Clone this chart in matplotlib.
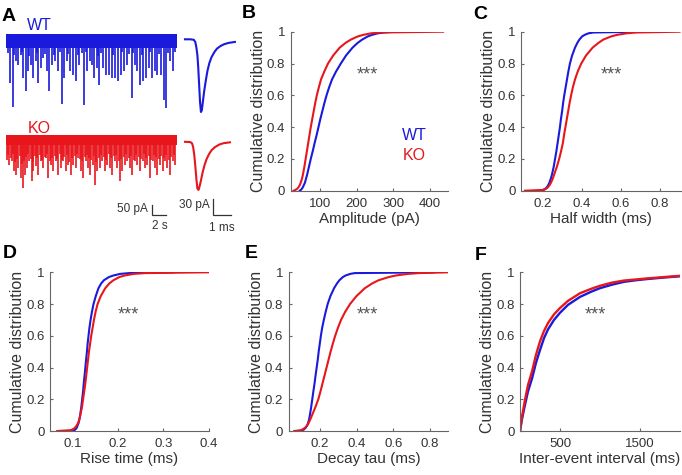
import matplotlib
matplotlib.use("Agg")
import matplotlib.pyplot as plt

plt.rcParams['font.family'] = ['Liberation Sans', 'DejaVu Sans']

W, H = 682, 475
BLUE = '#1a1adc'
RED = '#e8161c'
TXT = '#333333'
SPINE = '#666666'

# ---------------- data ----------------
# Panel A: raw traces (event time in s, event amplitude in pA)
wt_event_t = [0.57, 0.95, 1.43, 1.76, 2.10, 2.48, 2.86, 3.19, 3.52, 3.90, 4.29, 4.62, 4.95, 5.33,
              5.81, 6.19, 6.52, 7.00, 7.48, 7.95, 8.29, 8.67, 9.14, 9.52, 10.00, 10.48, 11.14,
              11.62, 12.00, 12.24, 12.57, 12.95, 13.33, 13.90, 14.29, 14.67, 15.10, 15.57, 16.05,
              16.38, 16.86, 17.33, 17.95, 18.43, 18.76, 19.14, 19.62, 20.00, 20.38, 20.81, 21.29,
              21.62, 22.10, 22.57, 22.86, 23.43, 23.90,
              0.30, 1.15, 2.30, 3.35, 4.45, 5.55, 6.80, 7.70, 8.90, 10.25, 10.80, 11.40, 13.10,
              13.60, 15.35, 16.60, 17.60, 18.20, 19.40, 20.60, 21.85, 23.10, 24.10]
wt_event_amp = [210, 332, 102, 118, 68, 185, 252, 152, 118, 185, 102, 210, 135, 85,
                152, 252, 118, 102, 152, 315, 185, 102, 152, 168, 202, 118, 322,
                152, 102, 118, 185, 135, 218, 135, 168, 168, 185, 185, 202,
                168, 152, 118, 285, 118, 152, 218, 202, 185, 135, 185, 152,
                168, 168, 293, 335, 102, 152,
                60, 70, 55, 75, 60, 65, 70, 55, 65, 70, 60, 55, 75,
                60, 70, 55, 65, 60, 70, 55, 65, 60, 55]
ko_event_t = [0.19, 0.48, 0.81, 1.14, 1.43, 1.76, 2.10, 2.48, 2.71, 3.05, 3.33, 3.67, 3.90, 4.29,
              4.62, 4.95, 5.33, 5.67, 6.05, 6.38, 6.76, 7.10, 7.48, 7.81, 8.19, 8.52, 8.90, 9.24,
              9.62, 9.95, 10.33, 10.67, 11.05, 11.38, 11.67, 12.00, 12.38, 12.71, 13.05, 13.43,
              13.76, 14.14, 14.48, 14.86, 15.19, 15.57, 15.90, 16.29, 16.62, 17.00, 17.33, 17.71,
              18.05, 18.43, 18.76, 19.14, 19.52, 19.86, 20.19, 20.57, 20.95, 21.29, 21.62, 22.00,
              22.38, 22.71, 23.05, 23.43, 23.81, 24.14,
              0.33, 0.65, 0.98, 1.30, 1.60, 1.93, 2.28, 2.60, 2.88, 3.20, 3.50, 3.80, 4.10, 4.45,
              4.80, 5.15, 5.50, 5.85, 6.22, 6.57, 6.93, 7.30, 7.65, 8.00, 8.35, 8.70, 9.07, 9.43,
              9.80, 10.15, 10.50, 10.86, 11.22, 11.52, 11.84, 12.20, 12.55, 12.88, 13.25, 13.60,
              13.95, 14.31, 14.67, 15.02, 15.38, 15.74, 16.10, 16.45, 16.81, 17.17, 17.52, 17.88,
              18.24, 18.60, 18.95, 19.33, 19.70, 20.03, 20.38, 20.76, 21.12, 21.46, 21.81, 22.19,
              22.55, 22.88, 23.24, 23.62, 23.98]
ko_event_amp = [98, 123, 107, 157, 173, 140, 190, 240, 173, 140, 107, 207, 157, 132,
                173, 107, 140, 90, 190, 123, 157, 107, 173, 140, 107, 157, 123, 173,
                123, 140, 90, 157, 190, 107, 140, 173, 123, 223, 157, 140,
                107, 157, 123, 140, 173, 107, 140, 207, 157, 123, 107, 140,
                173, 107, 123, 157, 107, 140, 123, 190, 107, 140, 173, 123,
                157, 107, 140, 173, 107, 123,
                75, 90, 70, 110, 95, 80, 120, 105, 85, 70, 95, 110, 80, 90,
                75, 100, 85, 70, 105, 90, 80, 95, 70, 100, 85, 75, 110, 90,
                80, 70, 95, 105, 85, 75, 90, 100, 80, 110, 90, 75,
                85, 100, 70, 90, 80, 75, 105, 95, 85, 70, 90, 80,
                100, 75, 85, 95, 70, 90, 80, 100, 75, 85, 95, 80,
                90, 75, 100, 85, 75]
wt_noise_pA = 33
ko_noise_pA = 26
trace_duration_s = 24.4
ko_offset_pA = -495

# Panel A: averaged events (time in ms, current in pA)
wt_avg_t = [0.00, 0.30, 0.50, 0.58, 0.64, 0.70, 0.75, 0.80, 0.85, 0.90, 0.95, 1.00, 1.08, 1.17,
            1.27, 1.38, 1.50, 1.65, 1.80, 2.00, 2.20, 2.45, 2.82]
wt_avg_i = [0, 0, -1, -5, -15, -30, -55, -88, -120, -139, -136, -122, -100, -80,
            -60, -45, -34, -25, -18, -13, -9.5, -7, -5]
ko_avg_t = [0.00, 0.30, 0.40, 0.46, 0.52, 0.58, 0.64, 0.70, 0.76, 0.82, 0.90, 1.00, 1.10, 1.22,
            1.35, 1.50, 1.70, 1.95, 2.20, 2.54]
ko_avg_i = [0, -0.5, -3, -10, -24, -45, -70, -89, -92, -86, -74, -58, -45, -33,
            -24, -16, -10, -5, -2.5, -1]
ko_avg_offset_pA = -196

# Cumulative distributions: value reached at each cumulative level
cdf_levels = [0, 0.005, 0.01, 0.02, 0.035, 0.05, 0.075, 0.1, 0.15, 0.2, 0.25, 0.3, 0.35, 0.4,
              0.45, 0.5, 0.55, 0.6, 0.65, 0.7, 0.75, 0.8, 0.85, 0.9, 0.93, 0.95, 0.97, 0.98,
              0.99, 0.995, 1.0]
amp_wt = [45, 48, 50, 53, 56, 59, 62, 65, 70, 75, 80.5, 85.5, 91, 96,
          101, 106.5, 112, 118, 125, 133, 144, 157, 171, 189, 203, 215, 230, 242,
          258, 275, 305]
amp_ko = [28, 33, 37, 41, 45, 47.5, 51, 53.5, 57.5, 61, 64.5, 68, 71.5, 75,
          79, 83, 87, 91.5, 97, 103, 112, 122, 136, 154, 170, 184, 203, 218,
          240, 265, 436]
hw_wt = [0.19, 0.205, 0.212, 0.221, 0.229, 0.235, 0.242, 0.248, 0.257, 0.264, 0.271, 0.277,
         0.283, 0.289, 0.294, 0.300, 0.305, 0.311, 0.318, 0.325, 0.332, 0.340, 0.351, 0.366,
         0.378, 0.388, 0.402, 0.415, 0.435, 0.46, 0.71]
hw_ko = [0.11, 0.205, 0.215, 0.226, 0.236, 0.243, 0.252, 0.259, 0.273, 0.285, 0.295, 0.304,
         0.310, 0.317, 0.324, 0.331, 0.338, 0.346, 0.355, 0.366, 0.380, 0.398, 0.422, 0.456,
         0.486, 0.51, 0.55, 0.58, 0.63, 0.68, 0.90]
rise_wt = [0.100, 0.104, 0.106, 0.109, 0.111, 0.113, 0.115, 0.1165, 0.119, 0.121, 0.123,
           0.1245, 0.1263, 0.128, 0.1297, 0.1315, 0.133, 0.135, 0.137, 0.1395, 0.1425, 0.146,
           0.151, 0.157, 0.163, 0.169, 0.180, 0.190, 0.205, 0.225, 0.323]
rise_ko = [0.066, 0.095, 0.100, 0.105, 0.109, 0.112, 0.115, 0.117, 0.1205, 0.123, 0.1255,
           0.128, 0.130, 0.132, 0.134, 0.136, 0.1385, 0.141, 0.144, 0.147, 0.1505, 0.155,
           0.162, 0.172, 0.181, 0.190, 0.203, 0.215, 0.235, 0.26, 0.40]
tau_wt = [0.09, 0.105, 0.113, 0.122, 0.130, 0.135, 0.141, 0.145, 0.152, 0.158, 0.164, 0.1705,
          0.176, 0.182, 0.188, 0.193, 0.199, 0.205, 0.212, 0.221, 0.231, 0.242, 0.257, 0.277,
          0.293, 0.306, 0.325, 0.34, 0.365, 0.39, 0.82]
tau_ko = [0.06, 0.095, 0.105, 0.118, 0.130, 0.138, 0.148, 0.157, 0.175, 0.191, 0.203, 0.214,
          0.225, 0.236, 0.247, 0.258, 0.270, 0.283, 0.298, 0.315, 0.337, 0.364, 0.399, 0.445,
          0.485, 0.52, 0.575, 0.615, 0.68, 0.74, 0.90]
# Inter-event interval: cumulative fraction at each interval (ms)
iei_ms = [0, 25, 60, 100, 150, 200, 250, 300, 350, 425, 500, 600, 750, 900, 1000, 1150,
          1300, 1450, 1600, 1800, 2000]
iei_wt = [0, 0.075, 0.16, 0.25, 0.33, 0.43, 0.51, 0.585, 0.64, 0.70, 0.745, 0.795, 0.845,
          0.88, 0.90, 0.922, 0.94, 0.95, 0.958, 0.967, 0.975]
iei_ko = [0, 0.09, 0.19, 0.29, 0.375, 0.48, 0.565, 0.63, 0.68, 0.735, 0.775, 0.82, 0.868,
          0.898, 0.915, 0.935, 0.948, 0.955, 0.962, 0.970, 0.978]

y_ticks = [0, 0.2, 0.4, 0.6, 0.8, 1]
y_ticklabels = ['0', '0.2', '0.4', '0.6', '0.8', '1']

fig = plt.figure(figsize=(W / 100, H / 100), dpi=100)


def px_axes(l, t, r, b):
    return fig.add_axes([l / W, 1 - b / H, (r - l) / W, (b - t) / H])


# ---------------- Panel A ----------------
axr = px_axes(0, 20, 180, 235)
axr.set_xlim(-6 / 7, 174 / 7)
axr.set_ylim(-970, 105)
axr.axis('off')
axr.fill_between([0, trace_duration_s], -wt_noise_pA, wt_noise_pA, color=BLUE, lw=0)
axr.vlines(wt_event_t, 0, [-a for a in wt_event_amp], color=BLUE, lw=1.2)
axr.fill_between([0, trace_duration_s], ko_offset_pA - ko_noise_pA, ko_offset_pA + ko_noise_pA,
                 color=RED, lw=0)
axr.vlines(ko_event_t, ko_offset_pA, [ko_offset_pA - a for a in ko_event_amp], color=RED, lw=1.2)
# scale bar 50 pA / 2 s
sb_t, sb_y = 20.81, -870
axr.plot([sb_t, sb_t, sb_t + 2], [sb_y + 50, sb_y, sb_y], color=TXT, lw=0.9,
         solid_joinstyle='miter')
axr.text(sb_t - 0.5, sb_y + 32, '50 pA', ha='right', va='center', fontsize=8.5, color=TXT)
axr.text(sb_t + 1.2, sb_y - 25, '2 s', ha='center', va='top', fontsize=8.5, color=TXT)
axr.text(4.75, 78, 'WT', ha='center', va='center', fontsize=11.5, color=BLUE)
axr.text(4.75, -436, 'KO', ha='center', va='center', fontsize=11.5, color=RED)

axa = px_axes(180, 20, 240, 235)
axa.set_xlim(-5 / 17.7, 55 / 17.7)
axa.set_ylim(-(235 - 39.3) / 0.523, (39.3 - 20) / 0.523)
axa.axis('off')
axa.plot(wt_avg_t, wt_avg_i, color=BLUE, lw=1.5)
axa.plot(ko_avg_t, [v + ko_avg_offset_pA for v in ko_avg_i], color=RED, lw=1.5)
sa_t, sa_y = 1.60, -336
axa.plot([sa_t, sa_t, sa_t + 1], [sa_y + 30, sa_y, sa_y], color=TXT, lw=0.9,
         solid_joinstyle='miter')
axa.text(sa_t - 0.2, sa_y + 20, '30 pA', ha='right', va='center', fontsize=8.5, color=TXT)
axa.text(sa_t + 0.5, sa_y - 13, '1 ms', ha='center', va='top', fontsize=8.5, color=TXT)

# ---------------- CDF panels ----------------
panels = [
    (290.6, 31.7, 448.3, 190.7, (20, 450), [100, 200, 300, 400], ['100', '200', '300', '400'],
     'Amplitude (pA)', amp_wt, amp_ko, 230),
    (521, 31.7, 681.5, 190.7, (0.09, 0.91), [0.2, 0.4, 0.6, 0.8], ['0.2', '0.4', '0.6', '0.8'],
     'Half width (ms)', hw_wt, hw_ko, 0.553),
    (50, 272.3, 208.6, 431, (0.05, 0.4), [0.1, 0.2, 0.3, 0.4], ['0.1', '0.2', '0.3', '0.4'],
     'Rise time (ms)', rise_wt, rise_ko, 0.224),
    (288.8, 272.3, 448.3, 431, (0.03, 0.9), [0.2, 0.4, 0.6, 0.8], ['0.2', '0.4', '0.6', '0.8'],
     'Decay tau (ms)', tau_wt, tau_ko, 0.46),
    (520, 272.3, 680, 431, (0, 2000), [500, 1500], ['500', '1500'],
     'Inter-event interval (ms)', None, None, 937),
]

axes = []
for (l, t, r, b, xlim, xt, xtl, xlabel, wt, ko, sx) in panels:
    ax = px_axes(l, t, r, b)
    axes.append(ax)
    if wt is not None:
        ax.plot(wt, cdf_levels, color=BLUE, lw=1.5, solid_joinstyle='round')
        ax.plot(ko, cdf_levels, color=RED, lw=1.5, solid_joinstyle='round')
    else:
        ax.plot(iei_ms, iei_wt, color=BLUE, lw=1.7, solid_joinstyle='round')
        ax.plot(iei_ms, iei_ko, color=RED, lw=1.7, solid_joinstyle='round')
    ax.set_xlim(*xlim)
    ax.set_ylim(0, 1)
    ax.set_xticks(xt)
    ax.set_xticklabels(xtl)
    ax.set_yticks(y_ticks)
    ax.set_yticklabels(y_ticklabels)
    for s in ['top', 'right']:
        ax.spines[s].set_visible(False)
    for s in ['left', 'bottom']:
        ax.spines[s].set_color(SPINE)
        ax.spines[s].set_linewidth(0.8)
    ax.tick_params(axis='both', direction='in', length=2.5, width=0.8, color=SPINE,
                   labelcolor=TXT, labelsize=9.5)
    ax.tick_params(axis='x', pad=5)
    ax.tick_params(axis='y', pad=4)
    ax.set_xlabel(xlabel, fontsize=11, color=TXT)
    ax.set_ylabel('Cumulative distribution', fontsize=11.5, color=TXT)
    wpx, hpx = r - l, b - t
    ax.xaxis.set_label_coords(0.5, -21 / hpx)
    ax.yaxis.set_label_coords(-25 / wpx, 0.5)
    ax.text(sx, 0.70, '***', ha='center', va='baseline', fontsize=13, color='#555555')
    ax.patch.set_alpha(0)

axes[0].text(358, 0.345, 'WT', ha='center', va='center', fontsize=11.5, color=BLUE)
axes[0].text(358, 0.22, 'KO', ha='center', va='center', fontsize=11.5, color=RED)

for letter, x, yb in [('A', 2, 21), ('B', 241.7, 18.5), ('C', 473, 19),
                      ('D', 3, 258), ('E', 245, 258), ('F', 475, 260)]:
    fig.text(x / W, 1 - yb / H, letter, fontsize=14, fontweight='bold', color='black',
             ha='left', va='baseline')

fig.savefig('out.png', dpi=100)
